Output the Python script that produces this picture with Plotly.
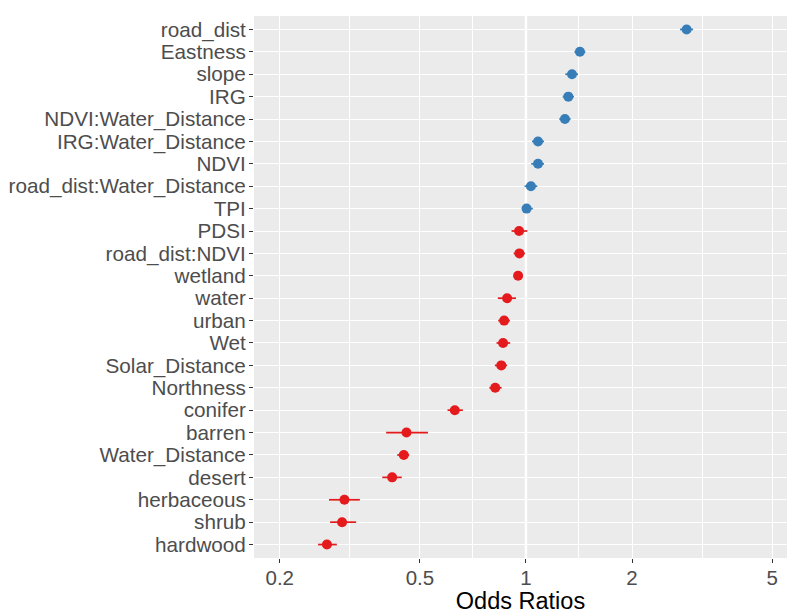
import plotly.graph_objects as go

# Model terms, listed from top to bottom of the chart
terms = [
    "road_dist", "Eastness", "slope", "IRG", "NDVI:Water_Distance",
    "IRG:Water_Distance", "NDVI", "road_dist:Water_Distance", "TPI", "PDSI",
    "road_dist:NDVI", "wetland", "water", "urban", "Wet", "Solar_Distance",
    "Northness", "conifer", "barren", "Water_Distance", "desert",
    "herbaceous", "shrub", "hardwood",
]

# Odds ratios with lower / upper confidence limits
odds_ratio = [
    2.858, 1.423, 1.351, 1.319, 1.290,
    1.082, 1.082, 1.033, 1.004, 0.956,
    0.958, 0.950, 0.884, 0.867, 0.861, 0.851,
    0.818, 0.628, 0.458, 0.450, 0.417,
    0.3053, 0.3006, 0.2723,
]
ci_low = [
    2.738, 1.373, 1.293, 1.271, 1.243,
    1.040, 1.035, 0.991, 0.978, 0.910,
    0.923, 0.923, 0.832, 0.834, 0.825, 0.816,
    0.787, 0.599, 0.401, 0.431, 0.391,
    0.276, 0.278, 0.257,
]
ci_high = [
    2.982, 1.474, 1.405, 1.369, 1.339,
    1.125, 1.125, 1.077, 1.046, 1.009,
    0.993, 0.980, 0.937, 0.900, 0.902, 0.884,
    0.853, 0.662, 0.527, 0.466, 0.444,
    0.3377, 0.3295, 0.2905,
]

x_ticks = [0.2, 0.5, 1, 2, 5]
x_tick_text = ["0.2", "0.5", "1", "2", "5"]

BLUE = "#377EB8"
RED = "#E41A1C"

fig = go.Figure()

groups = [
    ("positive", BLUE, lambda v: v > 1),
    ("negative", RED, lambda v: v <= 1),
]
for name, color, keep in groups:
    idx = [i for i, v in enumerate(odds_ratio) if keep(v)]
    fig.add_trace(go.Scatter(
        x=[odds_ratio[i] for i in idx],
        y=[terms[i] for i in idx],
        mode="markers",
        name=name,
        marker=dict(color=color, size=10, line=dict(width=0)),
        error_x=dict(
            type="data",
            symmetric=False,
            array=[ci_high[i] - odds_ratio[i] for i in idx],
            arrayminus=[odds_ratio[i] - ci_low[i] for i in idx],
            color=color,
            thickness=1.7,
            width=0,
        ),
        showlegend=False,
    ))

# reference line at an odds ratio of 1
fig.add_shape(
    type="line", xref="x", yref="paper",
    x0=1, x1=1, y0=0, y1=1,
    line=dict(color="white", width=2.4),
    layer="between",
)

# minor grid at geometric midpoints between major breaks
minor_vals = [(x_ticks[i] * x_ticks[i + 1]) ** 0.5 for i in range(len(x_ticks) - 1)]

fig.update_layout(
    width=787,
    height=614,
    margin=dict(l=254, r=0, t=16, b=56),
    paper_bgcolor="white",
    plot_bgcolor="#EBEBEB",
    font=dict(family="Liberation Sans, Arial, sans-serif", color="#4D4D4D"),
    xaxis=dict(
        type="log",
        range=[-0.772, 0.741],
        automargin=False,
        tickmode="array",
        tickvals=x_ticks,
        ticktext=x_tick_text,
        tickfont=dict(size=20.5, color="#4D4D4D"),
        ticks="outside",
        ticklen=4,
        tickwidth=1,
        tickcolor="#333333",
        ticklabelstandoff=-3,
        showgrid=True,
        gridcolor="white",
        gridwidth=1.1,
        zeroline=False,
        showline=False,
        minor=dict(
            tickvals=minor_vals,
            showgrid=True,
            gridcolor="white",
            gridwidth=0.6,
            ticks="",
        ),
        title=dict(
            text="Odds Ratios",
            font=dict(size=23.5, color="black"),
            standoff=11,
        ),
    ),
    yaxis=dict(
        type="category",
        categoryorder="array",
        categoryarray=terms[::-1],
        range=[-0.6, len(terms) - 0.4],
        automargin=False,
        tickmode="array",
        tickvals=terms,
        ticktext=terms,
        tickfont=dict(size=20.7, color="#4D4D4D"),
        ticks="outside",
        ticklen=4,
        tickwidth=1,
        tickcolor="#333333",
        ticklabelstandoff=-1,
        showgrid=True,
        gridcolor="white",
        gridwidth=1.1,
        zeroline=False,
        showline=False,
    ),
)

fig.write_html("out.html")
